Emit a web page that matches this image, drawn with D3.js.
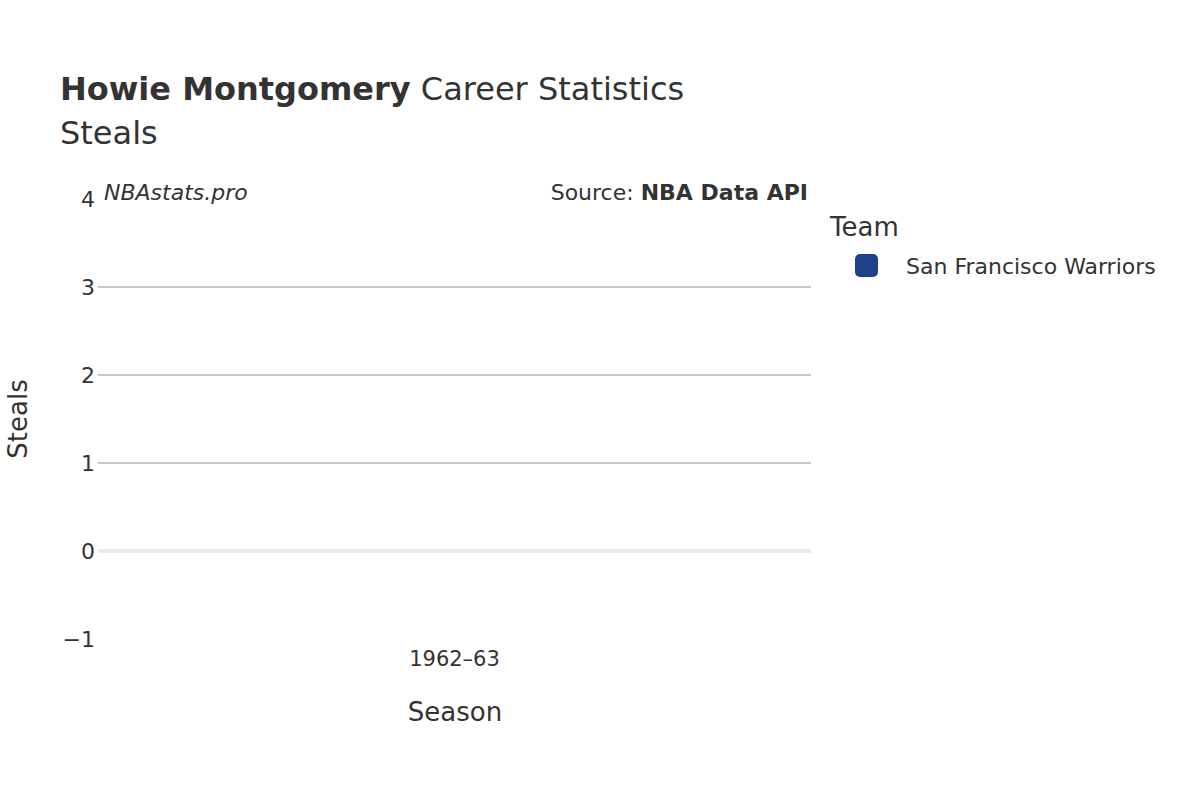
<!DOCTYPE html>
<html><head><meta charset="utf-8">
<script src="https://cdn.jsdelivr.net/npm/d3@7"></script>
<style>body{margin:0;background:#fff}text{font-family:"DejaVu Sans",sans-serif;fill:#333}</style>
</head><body><svg id="c" width="1200" height="800"></svg>
<script>
const seasons=["1962–63"];
const steals=[0];
const teams=["San Francisco Warriors"];
const teamColors=["#1d428a"];
const yTicks=[-1,0,1,2,3,4];

const svg=d3.select("#c");
const L=98,R=811,T=199,B=639;
const x=d3.scaleBand().domain(seasons).range([L,R]).padding(0.2);
const y=d3.scaleLinear().domain([-1,4]).range([B,T]);

svg.selectAll(".g").data(yTicks.filter(d=>d>0&&d<4)).enter().append("line")
 .attr("x1",L).attr("x2",R).attr("y1",d=>y(d)).attr("y2",d=>y(d)).attr("stroke","#c8c8c8").attr("stroke-width",2);
svg.append("line").attr("x1",L).attr("x2",R).attr("y1",y(0)).attr("y2",y(0)).attr("stroke","#ebebeb").attr("stroke-width",4);
svg.selectAll(".yt").data(yTicks).enter().append("text").attr("x",95).attr("y",d=>y(d)+8)
 .attr("text-anchor","end").attr("font-size",22).text(d=>d<0?"−"+Math.abs(d):d);
svg.selectAll(".xt").data(seasons).enter().append("text").attr("x",d=>x(d)+x.bandwidth()/2).attr("y",666)
 .attr("text-anchor","middle").attr("font-size",21).text(d=>d);
svg.selectAll(".bar").data(steals).enter().append("rect").attr("x",(d,i)=>x(seasons[i]))
 .attr("width",x.bandwidth()).attr("y",d=>y(Math.max(0,d))).attr("height",d=>Math.abs(y(d)-y(0))).attr("fill",teamColors[0]);

const t=svg.append("text").attr("x",60).attr("y",100).attr("font-size",32);
t.append("tspan").attr("font-weight","bold").text("Howie Montgomery");
t.append("tspan").text(" Career Statistics");
svg.append("text").attr("x",60).attr("y",144).attr("font-size",32).text("Steals");
svg.append("text").attr("x",104).attr("y",200).attr("font-size",22).attr("font-style","italic").text("NBAstats.pro");
const s=svg.append("text").attr("x",808).attr("y",200).attr("font-size",22).attr("text-anchor","end");
s.append("tspan").text("Source: ");s.append("tspan").attr("font-weight","bold").text("NBA Data API");
svg.append("text").attr("x",455).attr("y",721).attr("font-size",26).attr("text-anchor","middle").text("Season");
svg.append("text").attr("transform","translate(27,419) rotate(-90)").attr("font-size",26).attr("text-anchor","middle").text("Steals");
svg.append("text").attr("x",830).attr("y",236).attr("font-size",26).text("Team");
teams.forEach((tm,i)=>{
 svg.append("rect").attr("x",855).attr("y",254+i*30).attr("width",23).attr("height",23).attr("rx",5).attr("fill",teamColors[i]);
 svg.append("text").attr("x",906).attr("y",274+i*30).attr("font-size",22).text(tm);
});
</script></body></html>
